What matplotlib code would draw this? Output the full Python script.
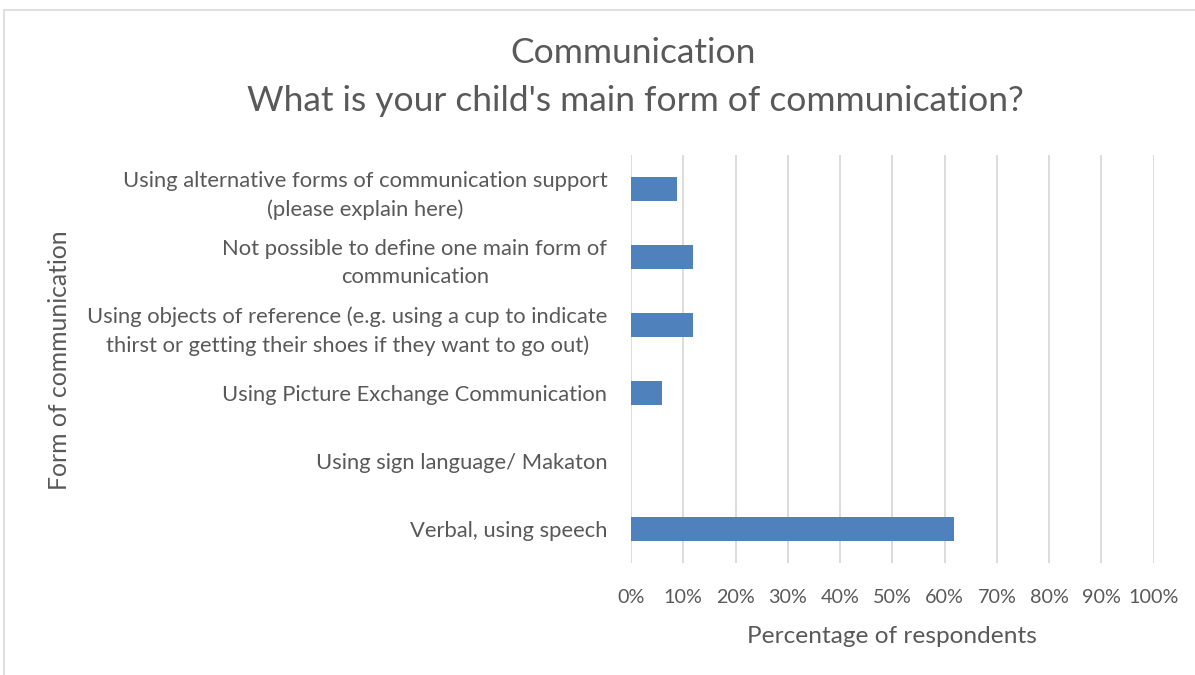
import matplotlib.pyplot as plt
from matplotlib.patches import Rectangle
from matplotlib.ticker import FuncFormatter

plt.rcParams['font.family'] = ['Lato', 'DejaVu Sans']

# survey categories, listed bottom to top as drawn
categories = [
    "Verbal, using speech",
    "Using sign language/ Makaton",
    "Using Picture Exchange Communication",
    "Using objects of reference (e.g. using a cup to indicate\nthirst or getting their shoes if they want to go out)",
    "Not possible to define one main form of\ncommunication",
    "Using alternative forms of communication support\n(please explain here)",
]
share = [61.8, 0.0, 5.9, 11.8, 11.8, 8.8]  # percent of respondents

text_grey = '#595959'
grid_grey = '#d9d9d9'
bar_blue = '#4f81bd'

fig = plt.figure(figsize=(11.95, 6.75), dpi=100)
ax = fig.add_axes([0.528, 0.166, 0.4375, 0.604])

ax.barh(range(len(categories)), share, height=0.35, color=bar_blue, zorder=3)

ax.set_xlim(0, 100)
ax.set_ylim(-0.5, len(categories) - 0.5)
ax.set_xticks(range(0, 101, 10))
ax.xaxis.set_major_formatter(FuncFormatter(lambda v, p: f"{v:.0f}%"))
ax.set_yticks(range(len(categories)))
ax.set_yticklabels(categories, multialignment='center', linespacing=1.5)
ax.grid(axis='x', color=grid_grey, lw=1.3, zorder=0)
ax.tick_params(axis='x', length=0, labelsize=14.2, colors=text_grey, pad=19)
ax.tick_params(axis='y', length=0, labelsize=15.8, colors=text_grey, pad=17)
for s in ax.spines.values():
    s.set_visible(False)

ax.set_xlabel("Percentage of respondents", fontsize=17.6, color=text_grey, labelpad=14)
fig.text(0.050, 0.467, "Form of communication", rotation=90, fontsize=17.8,
         color=text_grey, ha='center', va='center')

fig.text(0.530, 0.921, "Communication", fontsize=25.5, color=text_grey, ha='center', va='center')
fig.text(0.532, 0.851, "What is your child's main form of communication?", fontsize=25.5,
         color=text_grey, ha='center', va='center')

# chart frame
fig.patches.append(Rectangle((0.003, -0.1), 1.2, 1.085, transform=fig.transFigure,
                             fill=False, edgecolor=grid_grey, lw=1.2))

fig.savefig('out.png', dpi=100)
